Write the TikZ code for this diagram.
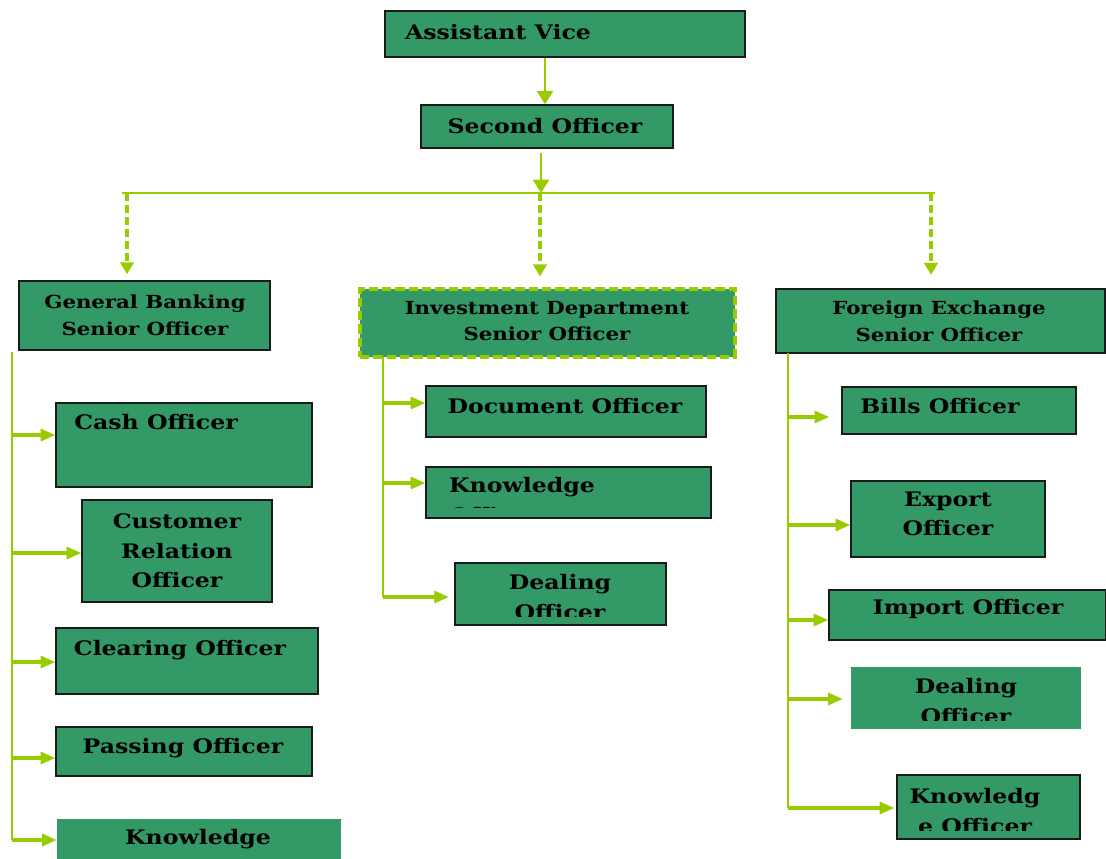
\documentclass[tikz,border=0pt]{standalone}
\usepackage{fontspec}
\setmainfont[FakeStretch=1.18]{DejaVu Serif}
\usetikzlibrary{arrows.meta,fit}
\definecolor{seagreen}{HTML}{339966}
\definecolor{limeline}{HTML}{99CC00}
\definecolor{boxline}{HTML}{1A1A1A}

\begin{document}
\begin{tikzpicture}[x=0.75pt, y=-0.75pt,
    box/.style={draw=boxline, fill=seagreen, line width=1.1pt, inner sep=0pt},
    plainbox/.style={fill=seagreen, inner sep=0pt},
    idbox/.style={draw=limeline, fill=seagreen, line width=2.8pt, dash pattern=on 7pt off 3pt, inner sep=0pt},
    title/.style={font=\fontsize{15}{22}\selectfont\bfseries, align=center, inner sep=0pt},
    head/.style={font=\fontsize{13.5}{20}\selectfont\bfseries, align=center, inner sep=0pt},
    mainarrow/.style={limeline, line width=2.2pt, -{Triangle[length=10pt,width=12pt]}},
    bus/.style={limeline, line width=1.5pt},
    drop/.style={limeline, line width=3pt, dash pattern=on 6pt off 3pt, -{Triangle[length=9pt,width=10pt]}},
    trunk/.style={limeline, line width=1.5pt},
    branch/.style={limeline, line width=2.4pt, -{Triangle[length=11pt,width=9pt]}}]

  \useasboundingbox (0,0) rectangle (1106,859);

  % Top of the chart
  \node[box, fit={(385,11) (745,57)}] (av) {};
  \node[title] (avT) at (498,32) {Assistant Vice};
  \node[box, fit={(421,105) (673,148)}] (so) {};
  \node[title] (soT) at (545,126) {Second Officer};

  % Senior officers
  \node[box, fit={(19,281) (270,350)}] (gb) {};
  \node[head] (gbT) at (145,315) {General Banking\\Senior Officer};
  \node[idbox, fit={(360,289) (735,357)}] (id) {};
  \node[head] (idT) at (547,321) {Investment Department\\Senior Officer};
  \node[box, fit={(776,289) (1105,353)}] (fe) {};
  \node[head] (feT) at (939,321) {Foreign Exchange\\Senior Officer};

  % General banking officers
  \node[box, fit={(56,403) (312,487)}] (cash) {};
  \node[title] (cashT) at (156,422) {Cash Officer};
  \node[box, fit={(82,500) (272,602)}] (cust) {};
  \node[title] (custT) at (177,551) {Customer\\Relation\\Officer};
  \node[box, fit={(56,628) (318,694)}] (clear) {};
  \node[title] (clearT) at (180,650) {Clearing Officer};
  \node[box, fit={(56,727) (312,776)}] (pass) {};
  \node[title] (passT) at (183,748) {Passing Officer};
  \node[plainbox, fit={(57,819) (341,859)}] (knowGB) {};
  \node[title] (knowGBT) at (198,839) {Knowledge};

  % Investment officers
  \node[box, fit={(426,386) (706,437)}] (doc) {};
  \node[title] (docT) at (565,406) {Document Officer};
  \node[box, fit={(426,467) (711,518)}] (knowID) {};
  \node[box, fit={(455,563) (666,625)}] (dealID) {};
  \begin{scope}
    \clip (426,467) rectangle (711,507);
    \node[title, align=left] (knowIDT) at (522,500) {Knowledge\\Officer};
  \end{scope}
  \begin{scope}
    \clip (455,563) rectangle (666,616);
    \node[title] (dealIDT) at (560,597) {Dealing\\Officer};
  \end{scope}

  % Foreign exchange officers
  \node[box, fit={(842,387) (1076,434)}] (bills) {};
  \node[title] (billsT) at (940,406) {Bills Officer};
  \node[box, fit={(851,481) (1045,557)}] (exp) {};
  \node[title] (expT) at (948,514) {Export\\Officer};
  \node[box, fit={(829,590) (1106,640)}] (imp) {};
  \node[title] (impT) at (968,609) {Import Officer};
  \node[plainbox, fit={(851,667) (1081,729)}] (dealFE) {};
  \node[box, fit={(897,775) (1080,839)}] (knowFE) {};
  \begin{scope}
    \clip (851,667) rectangle (1081,720);
    \node[title] (dealFET) at (966,701) {Dealing\\Officer};
  \end{scope}
  \begin{scope}
    \clip (897,775) rectangle (1080,830);
    \node[title] (knowFET) at (975,811) {Knowledg\\e Officer};
  \end{scope}

  % Main line
  \draw[mainarrow] (av.south -| 545,0) -- (so.north -| 545,0);
  \coordinate (busL) at (127,193);
  \coordinate (busM) at (540,193);
  \coordinate (busR) at (931,193);
  \draw[bus] (122,193) -- (935,193);
  \draw[mainarrow] ([yshift=-3pt]so.south -| 541,0) -- (541,193);
  \draw[drop, shorten >=4.5pt] (busL) -- (busL |- gb.north);
  \draw[drop, shorten >=8pt] (busM) -- (busM |- id.north);
  \draw[drop, shorten >=10pt] (busR) -- (busR |- fe.north);

  % Branches
  \coordinate (gbTrunk) at (12,352);
  \draw[trunk] (gbTrunk) -- (12,840);
  \draw[branch] (gbTrunk |- 0,435) -- (cash.west |- 0,435);
  \draw[branch] (gbTrunk |- 0,553) -- (cust.west |- 0,553);
  \draw[branch] (gbTrunk |- 0,662) -- (clear.west |- 0,662);
  \draw[branch] (gbTrunk |- 0,758) -- (pass.west |- 0,758);
  \draw[branch] (gbTrunk |- 0,840) -- (knowGB.west |- 0,840);

  \coordinate (idTrunk) at (383,357);
  \draw[trunk] (idTrunk) -- (383,597);
  \draw[branch] (idTrunk |- 0,403) -- (doc.west |- 0,403);
  \draw[branch] (idTrunk |- 0,483) -- (knowID.west |- 0,483);
  \draw[branch, shorten >=4pt] (idTrunk |- 0,597) -- (dealID.west |- 0,597);

  \coordinate (feTrunk) at (788,353);
  \draw[trunk] (feTrunk) -- (788,808);
  \draw[branch, shorten >=9pt] (feTrunk |- 0,417) -- (bills.west |- 0,417);
  \draw[branch] (feTrunk |- 0,525) -- (exp.west |- 0,525);
  \draw[branch] (feTrunk |- 0,620) -- (imp.west |- 0,620);
  \draw[branch, shorten >=6pt] (feTrunk |- 0,699) -- (dealFE.west |- 0,699);
  \draw[branch, shorten >=1.5pt] (feTrunk |- 0,808) -- (knowFE.west |- 0,808);
\end{tikzpicture}
\end{document}
